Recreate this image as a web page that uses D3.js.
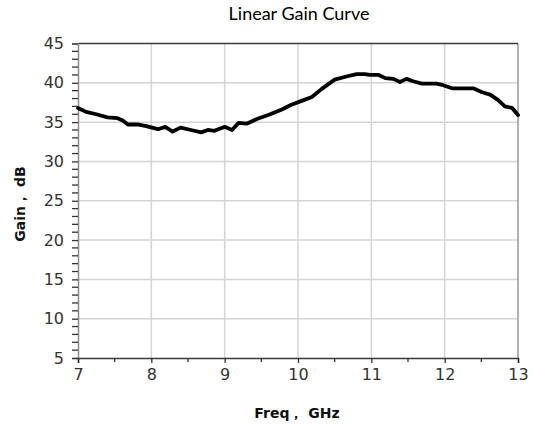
<!DOCTYPE html>
<html><head><meta charset="utf-8">
<script src="https://cdn.jsdelivr.net/npm/d3@7"></script>
<style>
body{margin:0;background:#fff;}
svg{display:block;}
</style></head>
<body>
<svg id="c" width="533" height="426"></svg>
<script>
const title = "Linear Gain Curve";
const xLabel = "Freq， GHz";
const yLabel = "Gain， dB";
const xTicks = [7, 8, 9, 10, 11, 12, 13];
const yTicks = [5, 10, 15, 20, 25, 30, 35, 40, 45];
const freq = [7.00, 7.11, 7.25, 7.40, 7.54, 7.61, 7.68, 7.81, 7.93, 8.09, 8.19, 8.29, 8.40, 8.54, 8.68, 8.77, 8.86, 8.94, 9.00, 9.10, 9.19, 9.30, 9.44, 9.62, 9.78, 9.91, 10.05, 10.19, 10.32, 10.50, 10.66, 10.80, 10.91, 10.98, 11.10, 11.19, 11.30, 11.39, 11.48, 11.57, 11.69, 11.89, 11.98, 12.10, 12.39, 12.51, 12.62, 12.73, 12.82, 12.92, 13.00];
const gain = [36.8, 36.3, 36.0, 35.6, 35.5, 35.2, 34.7, 34.7, 34.5, 34.1, 34.4, 33.8, 34.3, 34.0, 33.7, 34.0, 33.9, 34.2, 34.4, 34.0, 34.9, 34.8, 35.4, 36.0, 36.6, 37.2, 37.7, 38.2, 39.2, 40.4, 40.8, 41.1, 41.1, 41.0, 41.0, 40.6, 40.5, 40.1, 40.5, 40.2, 39.9, 39.9, 39.7, 39.3, 39.3, 38.8, 38.5, 37.8, 37.0, 36.8, 35.9];

const svg = d3.select("#c");
const L = 78, R = 518, T = 43.5, B = 358;
const x = d3.scaleLinear().domain([7, 13]).range([L, R]);
const y = d3.scaleLinear().domain([5, 45]).range([B, T]);
const tickFont = "'DejaVu Sans', sans-serif";

// grid
svg.append("g").selectAll("line").data(xTicks.slice(1, -1)).join("line")
  .attr("x1", d => x(d)).attr("x2", d => x(d)).attr("y1", T).attr("y2", B)
  .attr("stroke", "#d4d4d4").attr("stroke-width", 1.5);
svg.append("g").selectAll("line").data(yTicks.slice(1, -1)).join("line")
  .attr("x1", L).attr("x2", R).attr("y1", d => y(d)).attr("y2", d => y(d))
  .attr("stroke", "#d4d4d4").attr("stroke-width", 1.5);

// frame
svg.append("line").attr("x1", R).attr("x2", R).attr("y1", T).attr("y2", B).attr("stroke", "#9a9a9a").attr("stroke-width", 1.5);
svg.append("line").attr("x1", L).attr("x2", R).attr("y1", T).attr("y2", T).attr("stroke", "#3a3a3a").attr("stroke-width", 1.5);

// axes
const yAxis = d3.axisLeft(y).tickValues(yTicks).tickSize(6).tickPadding(8);
const gy = svg.append("g").attr("transform", `translate(${L},0)`).call(yAxis);
gy.select(".domain").attr("stroke", "#8a8a8a").attr("stroke-width", 1.5);
gy.selectAll(".tick line").attr("stroke", "#333").attr("stroke-width", 1.3);
gy.selectAll("text").attr("font-family", tickFont).attr("font-size", 16).attr("fill", "#333");
const yMinor = d3.range(5, 46, 1).filter(v => v % 5 !== 0);
svg.append("g").selectAll("line").data(yMinor).join("line")
  .attr("x1", L - 6).attr("x2", L).attr("y1", d => y(d)).attr("y2", d => y(d))
  .attr("stroke", "#333").attr("stroke-width", 1.3);

const xAxis = d3.axisBottom(x).tickValues(xTicks).tickSize(5).tickPadding(6).tickFormat(d3.format("d"));
const gx = svg.append("g").attr("transform", `translate(0,${B})`).call(xAxis);
gx.select(".domain").attr("stroke", "#3a3a3a").attr("stroke-width", 1.5);
gx.selectAll(".tick line").attr("stroke", "#333").attr("stroke-width", 1.3);
gx.selectAll("text").attr("font-family", tickFont).attr("font-size", 16).attr("fill", "#333");
const xMinor = d3.range(7.5, 13, 1);
svg.append("g").selectAll("line").data(xMinor).join("line")
  .attr("x1", d => x(d)).attr("x2", d => x(d)).attr("y1", B).attr("y2", B + 4)
  .attr("stroke", "#333").attr("stroke-width", 1.3);

// curve
const line = d3.line().x((d, i) => x(freq[i])).y(d => y(d)).curve(d3.curveLinear);
svg.append("path").datum(gain).attr("d", line)
  .attr("fill", "none").attr("stroke", "#000").attr("stroke-width", 3.8)
  .attr("stroke-linejoin", "round").attr("stroke-linecap", "round");

// labels
svg.append("text").attr("x", 299).attr("y", 20).attr("text-anchor", "middle")
  .attr("font-family", "Lato, 'Open Sans', sans-serif").attr("font-size", 18).attr("fill", "#000").text(title);
svg.append("text").attr("x", 297).attr("y", 418).attr("text-anchor", "middle")
  .attr("font-family", "'DejaVu Sans', sans-serif").attr("font-weight", "bold").attr("font-size", 14).attr("fill", "#111").text(xLabel);
svg.append("text").attr("transform", "translate(25,204) rotate(-90)").attr("text-anchor", "middle")
  .attr("font-family", "'DejaVu Sans', sans-serif").attr("font-weight", "bold").attr("font-size", 14).attr("fill", "#111").text(yLabel);
</script>
</body></html>
